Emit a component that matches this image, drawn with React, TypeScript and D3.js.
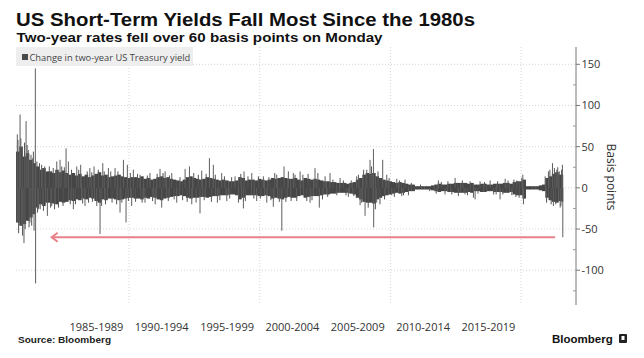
import React from "react";
import * as d3 from "d3";

// ---- Data ----
const title = "US Short-Term Yields Fall Most Since the 1980s";
const subtitle = "Two-year rates fell over 60 basis points on Monday";
const legendLabel = "Change in two-year US Treasury yield";
const yAxisTitle = "Basis points";
const source = "Source: Bloomberg";

// dense daily band envelope, quarterly buckets starting at 1981.35
const bandOrigin = 1981.35;
const bandStep = 0.25;
const dataEnd = 2023.2;
const bandUp = [
  44, 50, 38, 42, 34, 30,
  26, 22, 24, 20,
  20, 18, 22, 19, 21, 18,
  16, 18, 15, 17, 14, 16, 13, 15,
  17, 19, 15, 16, 13, 14, 15, 16, 14, 13, 12, 13,
  13, 12, 14, 11, 12, 10, 11, 13, 14, 12, 13, 11, 10, 9, 8, 10, 13, 14, 12, 11,
  10, 11, 13, 12, 11, 10, 9, 10, 9, 8, 8, 9, 13, 12, 9, 10, 10, 9, 11, 10,
  9, 10, 12, 11, 12, 13, 12, 11, 11, 12, 10, 9, 12, 11, 10, 11, 10, 9, 8, 8,
  7, 7, 6, 6, 6, 5, 6, 7, 10, 12, 16, 18, 17, 18, 14, 12, 10, 9, 8, 7,
  6, 7, 6, 5, 4, 4, 2, 2, 2, 2, 2, 3, 4, 5, 4, 4, 5, 5, 6, 6,
  6, 6, 5, 6, 4, 4, 5, 5, 4, 4, 5, 5, 5, 6, 6, 5, 7, 8, 8, 10,
  2, 2, 2, 2, 3, 4, 12, 14, 17, 19, 16, 16,
];
const bandDown = [
  -42, -46, -44, -40, -36, -32,
  -24, -20, -22, -18,
  -18, -19, -20, -17, -18, -17,
  -15, -16, -14, -15, -13, -14, -12, -13,
  -16, -18, -14, -15, -13, -13, -14, -15, -14, -13, -12, -12,
  -13, -13, -14, -12, -13, -11, -12, -14, -15, -13, -12, -11, -10, -10, -9, -10, -12, -13, -12, -12,
  -11, -11, -12, -11, -10, -10, -9, -9, -9, -8, -8, -9, -14, -12, -9, -9, -9, -9, -10, -10,
  -9, -10, -13, -12, -13, -14, -12, -11, -12, -12, -10, -9, -12, -11, -10, -10, -10, -9, -8, -8,
  -7, -7, -6, -6, -6, -6, -7, -8, -12, -14, -17, -18, -18, -19, -14, -12, -10, -9, -8, -7,
  -6, -7, -6, -5, -4, -4, -2, -2, -2, -2, -2, -3, -4, -5, -4, -4, -5, -5, -6, -6,
  -6, -6, -5, -6, -4, -4, -5, -5, -4, -4, -5, -5, -5, -6, -6, -5, -8, -9, -9, -13,
  -2, -2, -2, -2, -3, -4, -12, -15, -17, -18, -16, -17,
];

// individual large daily moves (decimal year, basis points)
const spikeYear = [
  1981.45, 1981.45, 1981.66, 1981.79, 1981.96, 1982.12, 1982.29, 1982.42,
  1982.63, 1982.73, 1982.83, 1982.85, 1983.06, 1983.31, 1983.75, 1984.08,
  1984.47, 1984.72, 1985.18, 1985.36, 1985.74, 1986.0, 1986.3, 1986.63, 1987.0,
  1987.32, 1987.53, 1987.78, 1987.99, 1988.42, 1988.93, 1989.31, 1989.57,
  1989.77, 1989.87, 1990.2, 1990.33, 1990.84, 1991.22, 1991.6, 1992.0, 1992.37,
  1992.5, 1992.76, 1993.27, 1993.65, 1994.29, 1994.62, 1994.8, 1995.13,
  1995.43, 1995.56, 1996.15, 1996.45, 1996.76, 1997.09, 1997.48, 1998.11,
  1998.37, 1998.75, 1998.8, 1999.39, 1999.77, 2000.28, 2000.54, 2001.04,
  2001.3, 2001.69, 2001.86, 2002.19, 2002.57, 2002.83, 2003.09, 2003.85,
  2004.23, 2004.56, 2005.0, 2005.38, 2006.15, 2006.78, 2007.42, 2007.68,
  2008.06, 2008.19, 2008.44, 2008.7, 2008.72, 2008.95, 2009.41, 2009.72,
  2010.1, 2010.49, 2010.87, 2011.12, 2011.38, 2013.67, 2014.18, 2014.95,
  2015.2, 2015.71, 2016.35, 2016.48, 2016.86, 2017.63, 2018.09, 2018.39,
  2018.78, 2019.29, 2019.67, 2020.13, 2020.18, 2021.84, 2022.09, 2022.4,
  2022.47, 2022.73, 2022.86, 2022.99, 2023.16, 2023.19,
];
const spikeValue = [
  65, -42, 89, -46, -67, 81, 46, -42, 36, -52, 145, -116, -26, 28, -34, -22,
  32, 34, 48, 32, -26, 26, 28, -22, 24, 26, -22, -56, 30, 24, 24, -30, 34, -42,
  28, -22, 22, 16, -18, 18, -20, 23, -24, 20, 18, -18, 23, 26, -20, -18, -31,
  21, 36, 28, -18, 18, -16, 14, -18, -25, 20, 18, -16, 14, -18, -23, 16, -52,
  26, 20, 18, -16, 20, -18, 24, -24, 14, 18, 12, -11, 14, -21, -34, 22, 34, 47,
  -48, -18, 34, 16, -9, 11, -10, 10, -9, 9, -8, 12, -10, -8, -12, -14, 8, 9,
  -8, -14, 11, -9, 9, 16, -20, 14, 20, 30, -22, 22, -16, -24, 28, -60,
];

// smaller moves that poke just outside the dense band
const minorYear = [
  1981.5, 1981.55, 1981.72, 1981.85, 1982.0, 1982.05, 1982.2, 1982.35, 1982.5,
  1982.55, 1982.68, 1982.95, 1983.0, 1983.15, 1983.2, 1983.45, 1983.55, 1983.9,
  1984.0, 1984.2, 1984.3, 1984.6, 1984.85, 1984.95, 1985.05, 1985.5, 1985.6,
  1985.9, 1986.15, 1986.45, 1986.8, 1986.9, 1987.15, 1987.2, 1987.65, 1987.9,
  1988.1, 1988.2, 1988.6, 1988.7, 1989.05, 1989.15, 1989.45, 1989.95, 1990.1,
  1990.5, 1990.65, 1991.0, 1991.4, 1991.8, 1992.15, 1992.6, 1993.0, 1993.1,
  1993.45, 1993.9, 1994.1, 1994.45, 1994.95, 1995.3, 1995.75, 1995.9, 1996.3,
  1996.6, 1996.95, 1997.3, 1997.7, 1997.85, 1998.55, 1998.9, 1999.1, 1999.55,
  1999.9, 2000.05, 2000.7, 2000.85, 2001.15, 2001.5, 2002.0, 2002.4, 2002.7,
  2003.3, 2003.6, 2003.7, 2004.0, 2004.45, 2004.8, 2005.2, 2005.6, 2005.9,
  2006.4, 2006.6, 2007.0, 2007.2, 2007.55, 2007.8, 2007.95, 2008.3, 2008.55,
  2008.85, 2009.05, 2009.2, 2009.55, 2009.9, 2010.3, 2010.7, 2011.0, 2011.6,
  2012.3, 2013.0, 2013.5, 2013.9, 2014.4, 2014.7, 2015.5, 2015.9, 2016.1,
  2016.7, 2017.2, 2017.9, 2018.2, 2018.6, 2019.0, 2019.45, 2019.6, 2019.85,
  2020.05, 2021.95, 2022.2, 2022.3, 2022.55, 2022.65, 2022.8, 2022.92, 2023.05,
  2023.1,
];
const minorValue = [
  58, -55, 60, -58, 55, -50, 52, -48, 40, -46, 44, 32, -30, 30, -26, -28, 26,
  26, -24, 24, -26, -24, 26, -22, 25, -20, 22, -20, 22, -19, 20, -18, 19, -17,
  22, -22, 20, -20, 20, -18, -20, 20, -18, -16, 18, -17, 17, -18, 15, -16, 17,
  18, -16, 15, -14, 13, -15, -17, 18, 16, -15, 17, -17, 16, -15, 14, -13, 13,
  17, -16, 14, -13, 14, -13, 13, -15, 18, -17, -17, -16, 16, 16, -16, 17, -15,
  18, -14, -11, 10, -9, 9, -9, 9, -10, 16, -18, 22, -24, 26, -26, 20, -20, -14,
  12, -11, 9, -9, 6, 4, -4, -7, 7, 8, -8, 9, -9, 8, -7, 7, -8, 8, -8, 9, 10,
  -11, -12, 12, -18, 22, -20, 24, -20, 25, 20, -22, 22,
];

const yTicks = [-100, -50, 0, 50, 100, 150];
const yMinorTicks = [-125, -75, -25, 25, 75, 125];
const gridYears = [1990, 2000, 2010, 2020];
const periodStarts = [1985, 1990, 1995, 2000, 2005, 2010, 2015];
const periodLabels = [
  "1985-1989", "1990-1994", "1995-1999", "2000-2004", "2005-2009",
  "2010-2014", "2015-2019",
];
const arrowFrom = 2022.6;
const arrowTo = 1984.08;
const arrowValue = -60;

// ---- Layout ----
const W = 644;
const H = 358;
const left = 16;
const right = 576;
const top = 47;
const bottom = 304;

export default function App() {
  const x = d3.scaleLinear().domain([1981.35, 2024.2]).range([left, right]);
  const y = d3.scaleLinear().domain([-141, 171]).range([bottom, top]);
  const font = "'Open Sans', 'Noto Sans', sans-serif";
  const boldFont = "'Liberation Sans', Arial, sans-serif";

  const bands = bandUp
    .map((u, i) => {
      const s = bandOrigin + i * bandStep;
      const e = Math.min(bandOrigin + (i + 1) * bandStep, dataEnd);
      return { s, e, u, d: bandDown[i] };
    })
    .filter((b) => b.e > b.s);

  return (
    <div style={{ position: "absolute", left: 0, top: 0 }}>
      <svg width={W} height={H} style={{ display: "block", background: "#fff" }}>
        {/* titles */}
        <text x={16} y={25.5} fontFamily={boldFont} fontWeight="bold" fontSize={18}
          fill="#111" textLength={459} lengthAdjust="spacingAndGlyphs">{title}</text>
        <text x={16.5} y={41.5} fontFamily={boldFont} fontWeight="bold" fontSize={13.5}
          fill="#111" textLength={366} lengthAdjust="spacingAndGlyphs">{subtitle}</text>

        {/* grid */}
        {yTicks.map((t) => (
          <line key={"gy" + t} x1={left} x2={right} y1={y(t)} y2={y(t)}
            stroke="#d4d4d4" strokeWidth={1} strokeDasharray="1,2" />
        ))}
        {gridYears.map((g) => (
          <line key={"gx" + g} x1={x(g)} x2={x(g)} y1={top} y2={bottom}
            stroke="#d4d4d4" strokeWidth={1} strokeDasharray="1,2" />
        ))}

        {/* legend */}
        <rect x={16} y={47} width={177} height={19} fill="#eeeeee" />
        <rect x={22} y={54} width={6} height={6} fill="#4a4a4a" />
        <text x={29.5} y={60.5} fontFamily={font} fontSize={9.3} fill="#444">{legendLabel}</text>

        {/* dense band */}
        {bands.map((b, i) => (
          <rect key={"b" + i} x={x(b.s)} width={x(b.e) - x(b.s) + 0.3} y={y(b.u)}
            height={y(b.d) - y(b.u)} fill="#464646" />
        ))}
        {/* smaller moves */}
        {minorYear.map((t, i) => (
          <line key={"m" + i} x1={x(t)} x2={x(t)} y1={y(0)} y2={y(minorValue[i])}
            stroke="#555" strokeWidth={1} />
        ))}
        {/* large moves */}
        {spikeYear.map((t, i) => (
          <line key={"s" + i} x1={x(t)} x2={x(t)} y1={y(0)} y2={y(spikeValue[i])}
            stroke="#5e5e5e" strokeWidth={1} />
        ))}

        {/* annotation arrow */}
        <line x1={x(arrowFrom)} x2={x(arrowTo)} y1={y(arrowValue)} y2={y(arrowValue)}
          stroke="#e8808a" strokeWidth={2} />
        <path d={`M${x(arrowTo) + 6},${y(arrowValue) - 4.5} L${x(arrowTo)},${y(arrowValue)} L${x(arrowTo) + 6},${y(arrowValue) + 4.5}`}
          fill="none" stroke="#e8808a" strokeWidth={2} />

        {/* y axis */}
        <line x1={right} x2={right} y1={top} y2={bottom + 1} stroke="#777" strokeWidth={1} />
        {yTicks.map((t) => (
          <line key={"mt" + t} x1={right} x2={right + 4} y1={y(t)} y2={y(t)} stroke="#777" />
        ))}
        {yMinorTicks.map((t) => (
          <line key={"mn" + t} x1={right - 3} x2={right} y1={y(t)} y2={y(t)} stroke="#999" />
        ))}
        {yTicks.map((t) => (
          <text key={"yl" + t} x={right + 5.5} y={y(t)} dy="0.35em" fontFamily={font}
            fontSize={11} fill="#333">{t}</text>
        ))}
        <text transform={`translate(611,177) rotate(90)`} textAnchor="middle"
          dominantBaseline="central" fontFamily={font} fontSize={12} fill="#333">{yAxisTitle}</text>

        {/* x labels */}
        {periodLabels.map((l, i) => (
          <text key={l} x={x(periodStarts[i] + 2.5)} y={330.5} textAnchor="middle"
            fontFamily={font} fontSize={11} fill="#333">{l}</text>
        ))}

        {/* footer */}
        <text x={18} y={342.5} fontFamily={boldFont} fontWeight="bold" fontSize={9.3}
          fill="#222" textLength={93} lengthAdjust="spacingAndGlyphs">{source}</text>
        <text x={552} y={343} fontFamily={boldFont} fontWeight="bold" fontSize={11.5}
          fill="#111">Bloomberg</text>
        <rect x={619} y={334} width={8} height={9} rx={1} fill="#222" />
        <rect x={621.5} y={336} width={3} height={4} fill="#fff" />
      </svg>
    </div>
  );
}
